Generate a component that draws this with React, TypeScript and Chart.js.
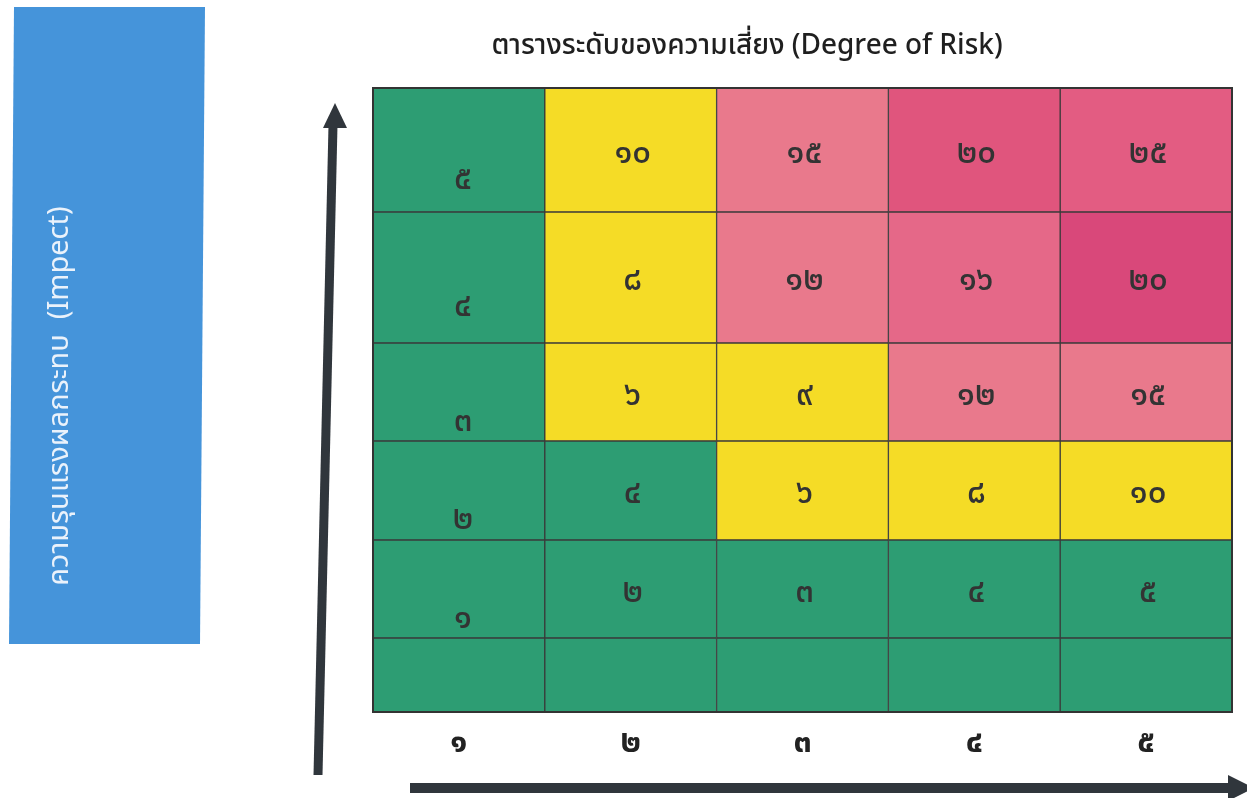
import React, { useEffect, useRef } from "react";
import { Chart, registerables } from "chart.js";

Chart.register(...registerables);

// ---- data ----
const LIKELIHOOD_LABELS = [1, 2, 3, 4, 5];
const IMPACT_1 = [1, 2, 3, 4, 5];
const IMPACT_2 = [2, 4, 6, 8, 10];
const IMPACT_3 = [3, 6, 9, 12, 15];
const IMPACT_4 = [4, 8, 12, 16, 20];
const IMPACT_5 = [5, 10, 15, 20, 25];
const EMPTY_ROW: (number | null)[] = [null, null, null, null, null];

const TITLE = "ตารางระดับของความเสี่ยง (Degree of Risk)";
const SIDE_LABEL = "ความรุนแรงผลกระทบ  (Impect)";

// ---- styles / layout ----
const GREEN = "#2d9d73";
const YELLOW = "#f5dc26";
const PINK = "#e9798c";
const PINK_MID = "#e56888";
const RED = "#e0557d";
const RED_DEEP = "#d9487a";

const COLORS_EMPTY = [GREEN, GREEN, GREEN, GREEN, GREEN];
const COLORS_1 = [GREEN, GREEN, GREEN, GREEN, GREEN];
const COLORS_2 = [GREEN, GREEN, YELLOW, YELLOW, YELLOW];
const COLORS_3 = [GREEN, YELLOW, YELLOW, PINK, PINK];
const COLORS_4 = [GREEN, YELLOW, PINK, PINK_MID, RED_DEEP];
const COLORS_5 = [GREEN, YELLOW, PINK, RED, "#e35c82"];

// relative row heights, bottom to top
const ROW_SPANS = [74, 98, 99, 98, 131, 124];

const THAI_DIGITS = ["๐", "๑", "๒", "๓", "๔", "๕", "๖", "๗", "๘", "๙"];
const toThai = (n: number) =>
  String(n)
    .split("")
    .map((d) => THAI_DIGITS[Number(d)])
    .join("");

const THAI_FONT = "'Noto Sans Thai', 'Noto Sans Thai UI', Loma, Garuda, 'Noto Sans', sans-serif";

const ROWS = [
  { values: EMPTY_ROW, colors: COLORS_EMPTY },
  { values: IMPACT_1, colors: COLORS_1 },
  { values: IMPACT_2, colors: COLORS_2 },
  { values: IMPACT_3, colors: COLORS_3 },
  { values: IMPACT_4, colors: COLORS_4 },
  { values: IMPACT_5, colors: COLORS_5 },
];

const decorPlugin = {
  id: "decor",
  beforeDraw(chart: any) {
    const ctx = chart.ctx as CanvasRenderingContext2D;
    const ca = chart.chartArea;
    ctx.save();
    // blue side box
    ctx.fillStyle = "#4594da";
    ctx.beginPath();
    ctx.moveTo(14, 7);
    ctx.lineTo(205, 7);
    ctx.lineTo(200, 644);
    ctx.lineTo(9, 644);
    ctx.closePath();
    ctx.fill();
    // rotated label
    ctx.translate(62, 396);
    ctx.rotate(-Math.PI / 2);
    ctx.fillStyle = "#eaf2fb";
    ctx.font = `29px ${THAI_FONT}`;
    ctx.textAlign = "center";
    ctx.textBaseline = "middle";
    ctx.fillText(SIDE_LABEL, 0, 0);
    ctx.restore();

    // title
    ctx.save();
    ctx.fillStyle = "#1f1f1f";
    ctx.font = `500 28px ${THAI_FONT}`;
    ctx.textAlign = "center";
    ctx.textBaseline = "middle";
    ctx.fillText(TITLE, ca.left + 374, 48);
    ctx.restore();

    // vertical arrow
    ctx.save();
    ctx.fillStyle = "#30363c";
    ctx.strokeStyle = "#30363c";
    ctx.lineWidth = 9;
    ctx.beginPath();
    ctx.moveTo(ca.left - 55, 775);
    ctx.lineTo(ca.left - 40, 125);
    ctx.stroke();
    ctx.beginPath();
    ctx.moveTo(ca.left - 38, 103);
    ctx.lineTo(ca.left - 50, 128);
    ctx.lineTo(ca.left - 26, 128);
    ctx.closePath();
    ctx.fill();
    // horizontal arrow
    ctx.lineWidth = 10;
    ctx.beginPath();
    ctx.moveTo(ca.left + 37, 788);
    ctx.lineTo(ca.right - 2, 788);
    ctx.stroke();
    ctx.beginPath();
    ctx.moveTo(ca.right - 4, 775);
    ctx.lineTo(ca.right + 22, 788);
    ctx.lineTo(ca.right - 4, 801);
    ctx.closePath();
    ctx.fill();
    ctx.restore();
  },
  afterDatasetsDraw(chart: any) {
    const ctx = chart.ctx as CanvasRenderingContext2D;
    const ca = chart.chartArea;
    ctx.save();
    ctx.fillStyle = "#333333";
    ctx.font = `500 33px ${THAI_FONT}`;
    ctx.textAlign = "center";
    ctx.textBaseline = "middle";
    ROWS.forEach((row, di) => {
      const meta = chart.getDatasetMeta(di);
      meta.data.forEach((bar: any, ci: number) => {
        const v = row.values[ci];
        if (v == null) return;
        const cy = (bar.y + bar.base) / 2;
        const off = ci === 0 ? 32 : 6;
        ctx.fillText(toThai(v), bar.x + (ci === 0 ? 4 : 2), cy + off);
      });
    });
    ctx.restore();
    // outer border
    ctx.save();
    ctx.strokeStyle = "#333";
    ctx.lineWidth = 2;
    ctx.strokeRect(ca.left, ca.top, ca.right - ca.left, ca.bottom - ca.top);
    ctx.restore();
  },
};

export default function App() {
  const ref = useRef<HTMLCanvasElement | null>(null);
  useEffect(() => {
    if (!ref.current) return;
    const chart = new Chart(ref.current, {
      type: "bar",
      data: {
        labels: LIKELIHOOD_LABELS.map(toThai),
        datasets: ROWS.map((row, i) => ({
          label: `row${i}`,
          data: LIKELIHOOD_LABELS.map(() => ROW_SPANS[i]),
          backgroundColor: row.colors,
          borderColor: "#3a3a3a",
          borderWidth: 1,
          borderSkipped: false,
          barPercentage: 1,
          categoryPercentage: 1,
        })),
      },
      options: {
        responsive: false,
        animation: false,
        layout: { padding: { left: 373, top: 88, right: 15, bottom: 19.6 } },
        plugins: {
          legend: { display: false },
          title: { display: false },
          tooltip: { enabled: false },
        },
        scales: {
          x: {
            stacked: true,
            grid: { display: false, drawTicks: false },
            border: { display: false },
            ticks: {
              padding: 14,
              color: "#222",
              font: { size: 32, weight: "bold", family: THAI_FONT },
            },
          },
          y: {
            stacked: true,
            display: false,
            min: 0,
            max: ROW_SPANS.reduce((a, b) => a + b, 0),
          },
        },
      },
      plugins: [decorPlugin],
    });
    return () => chart.destroy();
  }, []);
  return (
    <div style={{ position: "absolute", left: 0, top: 0, width: 1247, height: 798, background: "#fff" }}>
      <canvas ref={ref} width={1247} height={798} style={{ display: "block" }} />
    </div>
  );
}
